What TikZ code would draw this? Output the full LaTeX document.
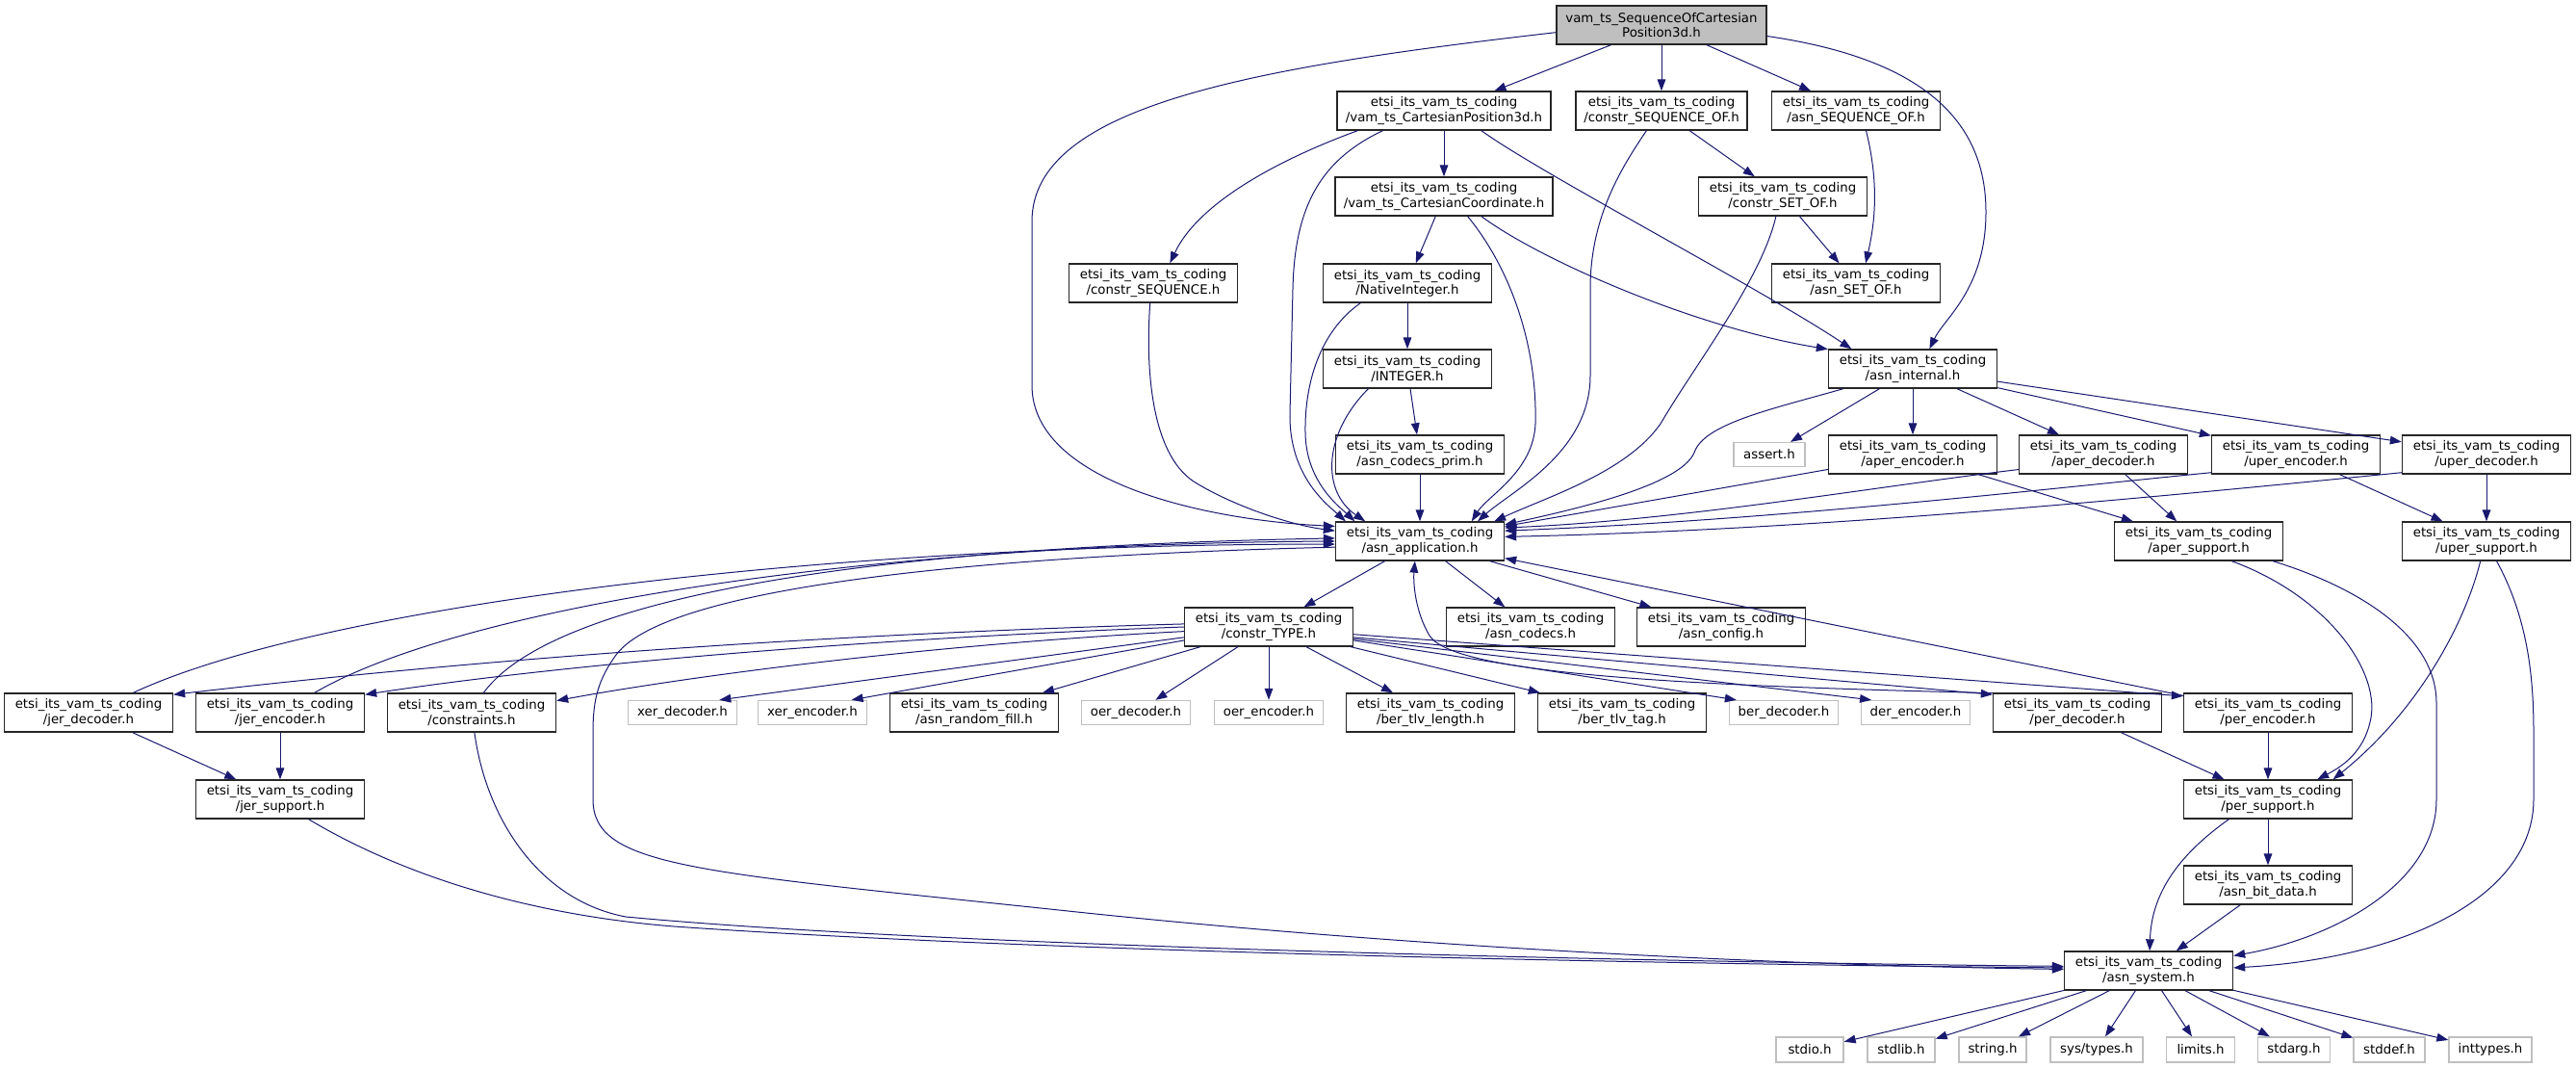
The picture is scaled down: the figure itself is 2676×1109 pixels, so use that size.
\documentclass[tikz,border=0pt]{standalone}
\usepackage{fontspec}
\setmainfont{DejaVu Sans}
\usetikzlibrary{arrows.meta}
\definecolor{edgec}{HTML}{191970}
\definecolor{grayb}{HTML}{BFBFBF}
\begin{document}
\begin{tikzpicture}[x=0.75bp,y=-0.75bp,
  base/.style={rectangle, inner sep=0pt, align=center, font=\fontsize{10bp}{11.5bp}\selectfont, line width=1bp},
  doc/.style={base, draw=black!85, minimum width=131.25bp, minimum height=30bp},
  undoc/.style={base, draw=grayb, minimum width=84.5bp, minimum height=18.75bp},
  leaf/.style={base, draw=grayb, minimum height=19.5bp},
  e/.style={draw=edgec, line width=0.75bp, -{Triangle[length=9bp,width=6.5bp]}}]
\useasboundingbox (0,0) rectangle (2676,1109);
% nodes
\node[doc, fill=grayb, minimum width=163.5bp] (root) at (1726,26) {vam\_ts\_SequenceOfCartesian\\Position3d.h};
\node[doc, minimum width=166.5bp] (cp3d) at (1500,115) {etsi\_its\_vam\_ts\_coding\\/vam\_ts\_CartesianPosition3d.h};
\node[doc, minimum width=133.5bp] (cseqof) at (1726,115) {etsi\_its\_vam\_ts\_coding\\/constr\_SEQUENCE\_OF.h};
\node[doc] (asnseqof) at (1928,115) {etsi\_its\_vam\_ts\_coding\\/asn\_SEQUENCE\_OF.h};
\node[doc, minimum width=169.5bp] (ccoord) at (1500,204) {etsi\_its\_vam\_ts\_coding\\/vam\_ts\_CartesianCoordinate.h};
\node[doc] (csetof) at (1852,204) {etsi\_its\_vam\_ts\_coding\\/constr\_SET\_OF.h};
\node[doc] (cseq) at (1198,294) {etsi\_its\_vam\_ts\_coding\\/constr\_SEQUENCE.h};
\node[doc] (nativeint) at (1462,294) {etsi\_its\_vam\_ts\_coding\\/NativeInteger.h};
\node[doc] (asnsetof) at (1928,294) {etsi\_its\_vam\_ts\_coding\\/asn\_SET\_OF.h};
\node[doc] (integer) at (1462,383) {etsi\_its\_vam\_ts\_coding\\/INTEGER.h};
\node[doc] (internal) at (1987,383) {etsi\_its\_vam\_ts\_coding\\/asn\_internal.h};
\node[doc] (prim) at (1475,472) {etsi\_its\_vam\_ts\_coding\\/asn\_codecs\_prim.h};
\node[undoc, minimum width=55.5bp] (assert) at (1838,472) {assert.h};
\node[doc] (aperenc) at (1987,472) {etsi\_its\_vam\_ts\_coding\\/aper\_encoder.h};
\node[doc] (aperdec) at (2185,472) {etsi\_its\_vam\_ts\_coding\\/aper\_decoder.h};
\node[doc] (uperenc) at (2385,472) {etsi\_its\_vam\_ts\_coding\\/uper\_encoder.h};
\node[doc] (uperdec) at (2583,472) {etsi\_its\_vam\_ts\_coding\\/uper\_decoder.h};
\node[doc] (app) at (1475,562) {etsi\_its\_vam\_ts\_coding\\/asn\_application.h};
\node[doc] (apersup) at (2284,562) {etsi\_its\_vam\_ts\_coding\\/aper\_support.h};
\node[doc] (upersup) at (2583,562) {etsi\_its\_vam\_ts\_coding\\/uper\_support.h};
\node[doc] (ctype) at (1318,651) {etsi\_its\_vam\_ts\_coding\\/constr\_TYPE.h};
\node[doc] (codecs) at (1590,651) {etsi\_its\_vam\_ts\_coding\\/asn\_codecs.h};
\node[doc] (config) at (1788,651) {etsi\_its\_vam\_ts\_coding\\/asn\_config.h};
\node[doc] (jerdec) at (92,740) {etsi\_its\_vam\_ts\_coding\\/jer\_decoder.h};
\node[doc] (jerenc) at (291,740) {etsi\_its\_vam\_ts\_coding\\/jer\_encoder.h};
\node[doc] (constraints) at (490,740) {etsi\_its\_vam\_ts\_coding\\/constraints.h};
\node[undoc] (xerdec) at (709,740) {xer\_decoder.h};
\node[undoc] (xerenc) at (844,740) {xer\_encoder.h};
\node[doc] (randfill) at (1012,740) {etsi\_its\_vam\_ts\_coding\\/asn\_random\_fill.h};
\node[undoc] (oerdec) at (1180,740) {oer\_decoder.h};
\node[undoc] (oerenc) at (1318,740) {oer\_encoder.h};
\node[doc] (bertlvlen) at (1486,740) {etsi\_its\_vam\_ts\_coding\\/ber\_tlv\_length.h};
\node[doc] (bertlvtag) at (1685,740) {etsi\_its\_vam\_ts\_coding\\/ber\_tlv\_tag.h};
\node[undoc] (berdec) at (1853,740) {ber\_decoder.h};
\node[undoc] (derenc) at (1990,740) {der\_encoder.h};
\node[doc] (perdec) at (2158,740) {etsi\_its\_vam\_ts\_coding\\/per\_decoder.h};
\node[doc] (perenc) at (2356,740) {etsi\_its\_vam\_ts\_coding\\/per\_encoder.h};
\node[doc] (jersup) at (291,830) {etsi\_its\_vam\_ts\_coding\\/jer\_support.h};
\node[doc] (persup) at (2356,830) {etsi\_its\_vam\_ts\_coding\\/per\_support.h};
\node[doc] (bitdata) at (2356,919) {etsi\_its\_vam\_ts\_coding\\/asn\_bit\_data.h};
\node[doc] (system) at (2232,1008) {etsi\_its\_vam\_ts\_coding\\/asn\_system.h};
\node[leaf, minimum width=52.5bp] (stdio) at (1880,1090) {stdio.h};
\node[leaf, minimum width=52.5bp] (stdlib) at (1975,1090) {stdlib.h};
\node[leaf, minimum width=52.5bp] (string) at (2070,1090) {string.h};
\node[leaf, minimum width=72bp] (systypes) at (2178,1090) {sys/types.h};
\node[leaf, minimum width=53.25bp] (limits) at (2286,1090) {limits.h};
\node[leaf, minimum width=56.25bp] (stdarg) at (2383,1090) {stdarg.h};
\node[leaf, minimum width=55.5bp] (stddef) at (2482,1090) {stddef.h};
\node[leaf, minimum width=64.5bp] (inttypes) at (2587,1090) {inttypes.h};
% straight edges
\draw[e] (root) -- (cp3d);
\draw[e] (root) -- (cseqof);
\draw[e] (root) -- (asnseqof);
\draw[e] (cp3d) -- (ccoord);
\draw[e] (cseqof) -- (csetof);
\draw[e] (csetof) -- (asnsetof);
\draw[e] (ccoord) -- (nativeint);
\draw[e] (nativeint) -- (integer);
\draw[e] (integer) -- (prim);
\draw[e] (prim) -- (app);
\draw[e] (internal) -- (assert);
\draw[e] (internal) -- (aperenc);
\draw[e] (internal) -- (aperdec);
\draw[e] (internal) -- (uperenc);
\draw[e] (internal) -- (uperdec);
\draw[e] (aperenc) -- (app);
\draw[e] (aperenc) -- (apersup);
\draw[e] (aperdec) -- (apersup);
\draw[e] (uperenc) -- (upersup);
\draw[e] (uperdec) -- (upersup);
\draw[e] (app) -- (ctype);
\draw[e] (app) -- (codecs);
\draw[e] (app) -- (config);
\draw[e] (ctype) -- (randfill);
\draw[e] (ctype) -- (oerdec);
\draw[e] (ctype) -- (oerenc);
\draw[e] (ctype) -- (bertlvlen);
\draw[e] (ctype) -- (bertlvtag);
\draw[e] (ctype.187) -- (xerdec.19);
\draw[e] (ctype.189) -- (xerenc.18);
\draw[e] (ctype.-9) -- (berdec.165);
\draw[e] (ctype.-8) -- (derenc.164);
\draw[e] (ctype.-7) -- (perdec.168);
\draw[e] (ctype.-5) -- (perenc.169);
\draw[e] (perenc) -- (app);
\draw[e] (perdec) -- (persup);
\draw[e] (perenc) -- (persup);
\draw[e] (persup) -- (bitdata);
\draw[e] (bitdata) -- (system);
\draw[e] (jerdec) -- (jersup);
\draw[e] (jerenc) -- (jersup);
\foreach \l in {stdio,stdlib,string,systypes,limits,stdarg,stddef,inttypes}
  \draw[e] (system) -- (\l);
% curved edges
\draw[e] (root.184) .. controls (1300,70) and (1072,110) .. (1072,230) -- (1072,400) .. controls (1072,500) and (1250,540) .. (app.170);
\draw[e] (root.-6) .. controls (1990,60) and (2063,120) .. (2063,220) .. controls (2063,300) and (2020,330) .. (internal.50);
\draw[e] (cp3d.193) .. controls (1330,165) and (1245,210) .. (cseq.50);
\draw[e] (cp3d.198) .. controls (1375,165) and (1345,210) .. (1343,300) -- (1340,430) .. controls (1339,495) and (1380,525) .. (app.165);
\draw[e] (cp3d.332) .. controls (1600,180) and (1830,300) .. (internal.162);
\draw[e] (ccoord.320) .. controls (1570,280) and (1597,360) .. (1595,440) .. controls (1593,490) and (1545,515) .. (app.21);
\draw[e] (ccoord.332) .. controls (1600,270) and (1760,340) .. (internal.167);
\draw[e] (cseqof.233) .. controls (1680,180) and (1652,230) .. (1652,300) -- (1652,390) .. controls (1652,470) and (1570,510) .. (app.19);
\draw[e] (asnseqof.297) .. controls (1952,190) and (1948,230) .. (asnsetof.64);
\draw[e] (csetof.251) .. controls (1830,290) and (1760,380) .. (1725,440) .. controls (1690,490) and (1610,515) .. (app.15);
\draw[e] (cseq.261) .. controls (1190,380) and (1195,470) .. (1240,500) .. controls (1280,525) and (1340,545) .. (app.173);
\draw[e] (nativeint.203) .. controls (1370,345) and (1355,400) .. (1356,450) .. controls (1357,500) and (1390,525) .. (app.163);
\draw[e] (integer.207) .. controls (1375,450) and (1372,510) .. (app.160);
\draw[e] (internal.196) .. controls (1840,425) and (1770,440) .. (1760,470) .. controls (1745,505) and (1630,530) .. (app.11);
\draw[e] (aperdec.190) .. controls (1950,505) and (1750,540) .. (app.9);
\draw[e] (uperenc.192) .. controls (2150,505) and (1850,540) .. (app.7);
\draw[e] (uperdec.192) .. controls (2250,515) and (1900,550) .. (app.3);
\draw[e] (perdec.167) .. controls (1750,712) and (1510,700) .. (1485,660) .. controls (1470,635) and (1468,605) .. (app.256);
\draw[e] (app.184) .. controls (1100,575) and (700,600) .. (640,680) .. controls (622,705) and (616,725) .. (616,760) -- (616,830) .. controls (616,900) and (720,905) .. (1100,945) .. controls (1500,988) and (1900,1003) .. (system.179);
\draw[e] (jerdec.24) .. controls (330,630) and (850,565) .. (app.182);
\draw[e] (jerenc.30) .. controls (480,630) and (900,565) .. (app.180);
\draw[e] (constraints.59) .. controls (560,640) and (800,570) .. (app.178);
\draw[e] (ctype.178) .. controls (800,660) and (450,690) .. (jerdec.12);
\draw[e] (ctype.180) .. controls (850,665) and (550,695) .. (jerenc.12);
\draw[e] (ctype.183) .. controls (950,670) and (700,705) .. (constraints.8);
\draw[e] (constraints.278) .. controls (505,850) and (560,935) .. (650,952) .. controls (1000,985) and (1800,1000) .. (system.177);
\draw[e] (jersup.325) .. controls (420,910) and (550,950) .. (700,962) .. controls (1100,990) and (1800,1002) .. (system.178);
\draw[e] (persup.207) .. controls (2260,890) and (2235,930) .. (system.87);
\draw[e] (apersup.329) .. controls (2420,620) and (2475,700) .. (2462,750) .. controls (2455,780) and (2435,795) .. (persup.22);
\draw[e] (apersup.345) .. controls (2450,610) and (2531,660) .. (2531,730) -- (2531,830) .. controls (2531,920) and (2420,975) .. (system.10);
\draw[e] (upersup.253) .. controls (2560,650) and (2510,740) .. (persup.17);
\draw[e] (upersup.297) .. controls (2625,640) and (2632,700) .. (2632,760) -- (2632,830) .. controls (2632,930) and (2500,995) .. (system.2);
\end{tikzpicture}
\end{document}
